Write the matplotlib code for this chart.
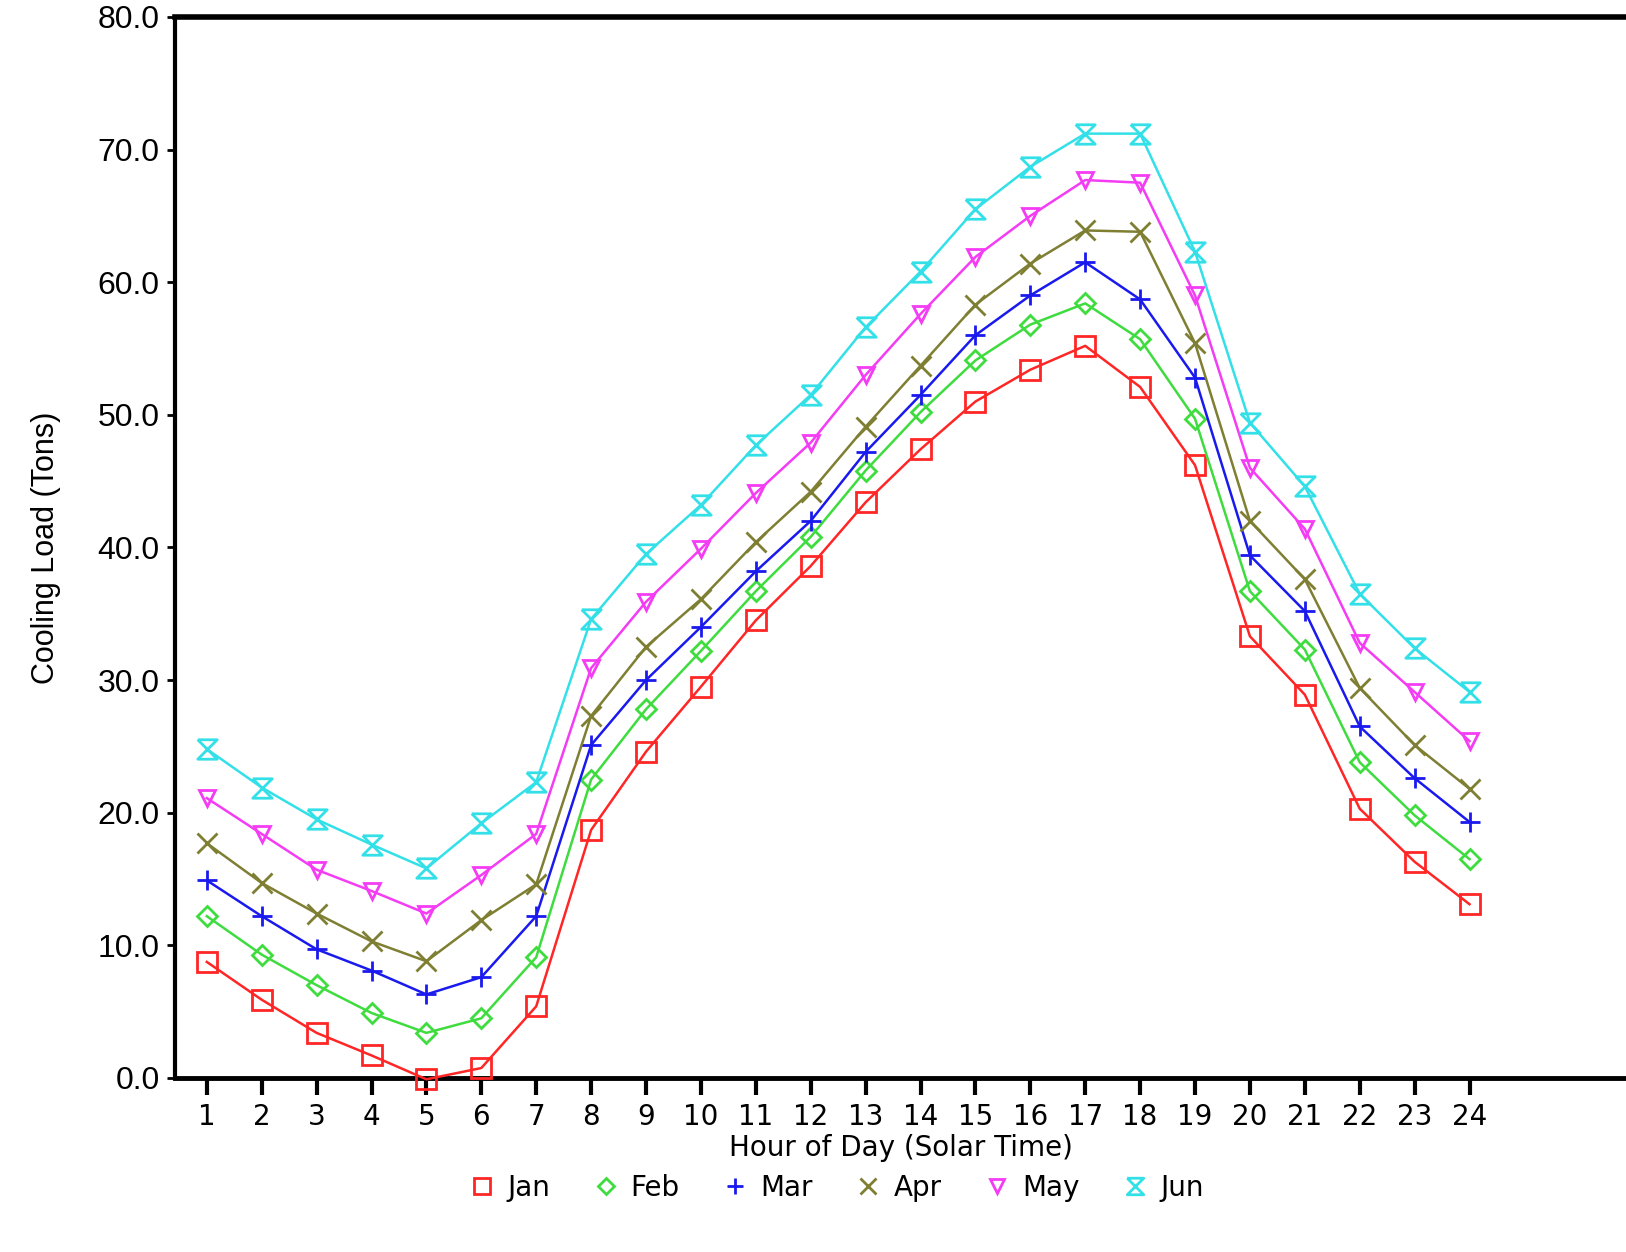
import matplotlib
matplotlib.use("Agg")
import matplotlib.pyplot as plt
from matplotlib.lines import Line2D

hours = list(range(1, 25))
months = ["Jan", "Feb", "Mar", "Apr", "May", "Jun"]

jan = [8.75, 5.9, 3.4, 1.7, -0.1, 0.75, 5.4, 18.7, 24.6, 29.5, 34.5, 38.6,
       43.4, 47.4, 51.0, 53.4, 55.2, 52.1, 46.2, 33.3, 28.9, 20.3, 16.3, 13.1]
feb = [12.2, 9.3, 7.0, 4.9, 3.4, 4.5, 9.1, 22.5, 27.8, 32.2, 36.7, 40.8,
       45.8, 50.2, 54.1, 56.8, 58.4, 55.7, 49.7, 36.7, 32.3, 23.8, 19.8, 16.5]
mar = [14.9, 12.2, 9.7, 8.1, 6.3, 7.6, 12.2, 25.1, 30.0, 34.0, 38.2, 42.0,
       47.2, 51.5, 56.0, 59.0, 61.5, 58.7, 52.8, 39.4, 35.2, 26.5, 22.6, 19.3]
apr = [17.7, 14.7, 12.4, 10.3, 8.8, 11.9, 14.6, 27.3, 32.5, 36.1, 40.4, 44.2,
       49.1, 53.7, 58.3, 61.4, 63.9, 63.8, 55.4, 42.0, 37.6, 29.4, 25.1, 21.8]
may = [21.1, 18.4, 15.7, 14.1, 12.4, 15.3, 18.4, 30.9, 35.9, 39.9, 44.1, 47.9,
       53.0, 57.6, 61.9, 65.0, 67.7, 67.5, 59.0, 46.0, 41.4, 32.8, 29.1, 25.4]
jun = [24.8, 21.9, 19.5, 17.6, 15.8, 19.2, 22.3, 34.6, 39.5, 43.2, 47.7, 51.5,
       56.6, 60.8, 65.5, 68.7, 71.2, 71.2, 62.3, 49.4, 44.6, 36.5, 32.4, 29.1]

series = [jan, feb, mar, apr, may, jun]
colors = ["#ff2626", "#3fdc3f", "#1a1aee", "#7f7f33", "#f43cf4", "#33e0e8"]
hourglass = [(-1, 1), (1, 1), (-1, -1), (1, -1), (-1, 1)]
markers = ["s", "D", "+", "x", "v", hourglass]
msizes = [14, 10, 14, 14, 12, 14]

# y axis text in the original is a narrow sans
narrow = ["Liberation Sans", "DejaVu Sans"]

fig = plt.figure(figsize=(16.26, 12.52), dpi=100)
ax = fig.add_axes([0.1076, 0.139, 0.8924, 0.8475])

for vals, c, m, ms in zip(series, colors, markers, msizes):
    ax.plot(hours, vals, color=c, lw=1.8, marker=m, ms=ms, mfc="none",
            mec=c, mew=2, clip_on=False, zorder=3)

ax.set_xlim(0.42, 26.85)
ax.set_ylim(0, 80)
ax.set_xticks(hours)
ax.set_xticklabels([str(h) for h in hours], fontsize=20)
ax.set_yticks(range(0, 81, 10))
ax.set_yticklabels(["%.1f" % v for v in range(0, 81, 10)], fontsize=23, family=narrow)
ax.tick_params(axis="x", direction="out", length=12, width=3, pad=6)
ax.tick_params(axis="y", direction="out", length=6, width=2, pad=5)

ax.spines["right"].set_visible(False)
ax.spines["top"].set_linewidth(4)
ax.spines["left"].set_linewidth(3)
ax.spines["bottom"].set_linewidth(3.5)

ax.set_xlabel("Hour of Day (Solar Time)", fontsize=20, labelpad=2)
ax.set_ylabel("Cooling Load (Tons)", fontsize=22, family=narrow, labelpad=26)

handles = [Line2D([], [], color=c, ls="none", marker=m, ms=ms * 0.85, mfc="none", mew=2)
           for c, m, ms in zip(colors, markers, msizes)]
fig.legend(handles, months, loc="center", bbox_to_anchor=(0.515, 0.051), ncol=6,
           frameon=False, fontsize=20, handlelength=0.8, handletextpad=0.5,
           columnspacing=1.6)

fig.savefig("out.png", dpi=100)
